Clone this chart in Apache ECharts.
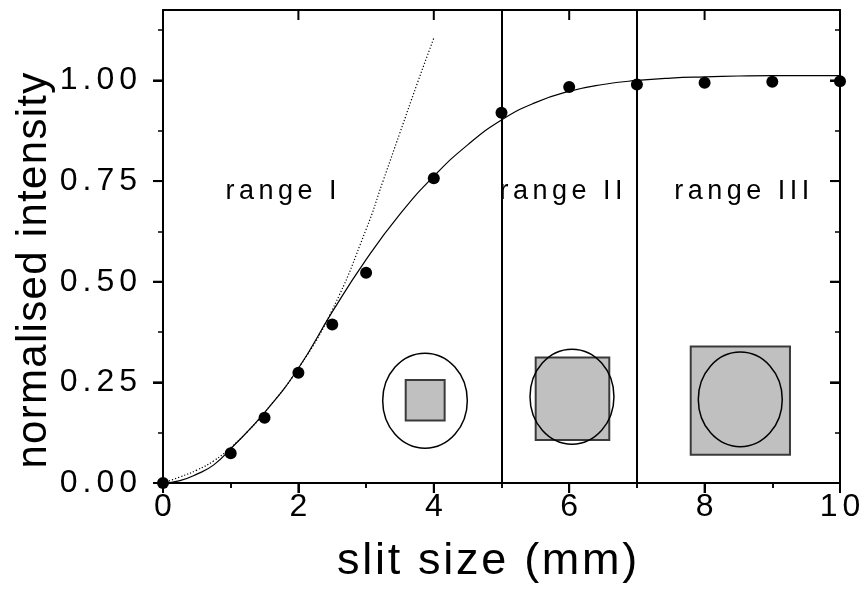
<!DOCTYPE html>
<html>
<head>
<meta charset="utf-8">
<script src="https://cdn.jsdelivr.net/npm/echarts@6/dist/echarts.min.js"></script>
<style>
html,body{margin:0;padding:0;background:#fff;}
#main{width:864px;height:593px;}
</style>
</head>
<body>
<div id="main"></div>
<script>
// ---- data ----
var ptX = [0, 1, 1.5, 2, 2.5, 3, 4, 5, 6, 7, 8, 9, 10];
var ptY = [0, 0.074, 0.162, 0.274, 0.394, 0.522, 0.757, 0.92, 0.984, 0.99, 0.994, 0.997, 0.998];

var fitX = [0, 0.25, 0.5, 0.75, 1, 1.5, 2, 2.5, 3, 3.5, 4, 4.5, 5, 5.5, 6, 6.5, 7, 7.5, 8, 8.5, 9, 10];
var fitY = [0, 0.006, 0.022, 0.045, 0.085, 0.175, 0.285, 0.425, 0.555, 0.668, 0.762, 0.84, 0.902, 0.945, 0.973, 0.99, 1.0, 1.006, 1.009, 1.011, 1.012, 1.012];

var dotX = [0, 0.25, 0.5, 0.75, 1, 1.25, 1.5, 2, 2.5, 3, 3.25, 3.5, 3.75, 4];
var dotY = [0, 0.015, 0.032, 0.055, 0.088, 0.128, 0.175, 0.285, 0.43, 0.63, 0.75, 0.87, 0.99, 1.105];

var rangeBounds = [5, 7];
var rangeLabels = ['range I', 'range II', 'range III'];
var rangeLabelX = [1.743, 5.88, 8.55];
var rangeLabelY = [0.724, 0.724, 0.724];

// inset schematics (data units): squares [x0, y0, x1, y1], ellipses [cx, cy, rx, ry]
var insetSquares = [[3.585, 0.155, 4.16, 0.256], [5.505, 0.107, 6.592, 0.312], [7.795, 0.07, 9.261, 0.339]];
var insetEllipses = [[3.87, 0.2045, 0.625, 0.118], [6.041, 0.2144, 0.62, 0.118], [8.527, 0.2077, 0.62, 0.1175]];

// axes
var xMin = 0, xMax = 10, xStep = 2;
var yMin = 0, yMax = 1.175, yStep = 0.25, yTickMax = 1.25;
var xMajorTicks = [0, 2, 4, 6, 8, 10];
var yMajorTicks = [0, 0.25, 0.5, 0.75, 1.0];

var FONT = "'Liberation Sans', Arial, sans-serif";
// letter spacing (px) of the reference typesetting, keyed by font size
var SPACING = { '32': 5, '45': 2.7, '42': 1.3, '27': 4.5 };

// canvas text with letter spacing (the reference uses widely spaced letters)
(function () {
  var proto = CanvasRenderingContext2D.prototype;
  var orig = proto.fillText;
  proto.fillText = function (t, x, y, mw) {
    var m = /(\d+(?:\.\d+)?)px/.exec(this.font || '');
    var sp = m && SPACING[m[1]] ? SPACING[m[1]] : 0;
    if ('letterSpacing' in this) { this.letterSpacing = sp + 'px'; }
    var r = mw === undefined ? orig.call(this, t, x, y) : orig.call(this, t, x, y, mw);
    if ('letterSpacing' in this) { this.letterSpacing = '0px'; }
    return r;
  };
})();

function zip(a, b) { return a.map(function (v, i) { return [v, b[i]]; }); }

var W = 864, H = 593, G_LEFT = 163, G_RIGHT = 24, G_TOP = 10, G_BOTTOM = 110;
var plotH = H - G_TOP - G_BOTTOM;
// tall grid only carries y labels / minor ticks, extended so that its last tick falls outside the view
var tickGridTop = G_TOP + plotH - plotH / yMax * yTickMax;
var MAJOR_LEN = 10;

var chart = echarts.init(document.getElementById('main'), null, { renderer: 'canvas' });

var black = '#000';
var minorTickStyle = { color: black, width: 1.5 };
function frameAxis(extra) {
  return Object.assign({
    type: 'value', axisTick: { show: false }, axisLabel: { show: false },
    splitLine: { show: false }, minorSplitLine: { show: false },
    axisLine: { show: true, onZero: false, lineStyle: { color: black, width: 2 } }
  }, extra);
}
function tickAxis(extra) {
  return Object.assign({
    type: 'value', axisLine: { show: false },
    splitLine: { show: false }, minorSplitLine: { show: false },
    axisTick: { show: true, length: MAJOR_LEN, lineStyle: { color: black, width: 2 } },
    minorTick: { show: true, splitNumber: 2, length: 5, lineStyle: minorTickStyle }
  }, extra);
}

var option = {
  animation: false,
  backgroundColor: '#fff',
  grid: [
    { left: G_LEFT, right: G_RIGHT, top: G_TOP, bottom: G_BOTTOM, containLabel: false, outerBoundsMode: 'none' },
    { left: G_LEFT, right: G_RIGHT, top: tickGridTop, bottom: G_BOTTOM, containLabel: false, outerBoundsMode: 'none' },
    { left: G_LEFT, right: G_RIGHT, top: G_TOP, bottom: G_BOTTOM, containLabel: false, outerBoundsMode: 'none' }
  ],
  xAxis: [
    frameAxis({ gridIndex: 0, min: xMin, max: xMax, interval: xStep, position: 'bottom' }),
    frameAxis({ gridIndex: 0, min: xMin, max: xMax, interval: xStep, position: 'top' }),
    tickAxis({
      gridIndex: 1, min: xMin, max: xMax, interval: xStep, position: 'bottom',
      axisLabel: { color: black, fontSize: 32, fontFamily: FONT, margin: 8, padding: [0, 0, 0, 5] },
      name: 'slit size (mm)', nameLocation: 'middle', nameGap: 56,
      nameTextStyle: { color: black, fontSize: 45, fontFamily: FONT, padding: [0, 26, 0, 0] }
    }),
    tickAxis({
      gridIndex: 2, min: xMin, max: xMax, interval: xStep, position: 'top',
      axisTick: { show: true, inside: true, length: MAJOR_LEN, lineStyle: { color: black, width: 2 } },
      axisLabel: { show: false }
    })
  ],
  yAxis: [
    frameAxis({
      gridIndex: 0, min: yMin, max: yMax, position: 'left',
      name: 'normalised intensity', nameLocation: 'middle', nameGap: 108,
      nameTextStyle: { color: black, fontSize: 42, fontFamily: FONT, padding: [0, 47, 0, 0] }
    }),
    frameAxis({ gridIndex: 0, min: yMin, max: yMax, position: 'right' }),
    tickAxis({
      gridIndex: 1, min: yMin, max: yTickMax, interval: yStep, position: 'left',
      axisLabel: { color: black, fontSize: 32, fontFamily: FONT, margin: 21, showMaxLabel: false,
        formatter: function (v) { return v.toFixed(2); } }
    }),
    tickAxis({
      gridIndex: 1, min: yMin, max: yTickMax, interval: yStep, position: 'right',
      axisTick: { show: true, inside: true, length: MAJOR_LEN, lineStyle: { color: black, width: 2 } },
      axisLabel: { show: false }
    }),
    { gridIndex: 2, type: 'value', min: yMin, max: yMax, show: false }
  ],
  series: [
    {
      // major tick marks on all four sides, placed through the data scales
      type: 'custom', name: 'major ticks', xAxisIndex: 0, yAxisIndex: 0, silent: true, clip: false, z: 5,
      data: xMajorTicks.map(function (v) { return [v, 0]; }).concat(yMajorTicks.map(function (v) { return [v, 1]; })),
      renderItem: function (params, api) {
        var v = api.value(0), isY = api.value(1) === 1;
        var st = { stroke: black, lineWidth: 2 };
        var a, b;
        if (!isY) {
          a = api.coord([v, yMin]); b = api.coord([v, yMax]);
          return { type: 'group', children: [
            { type: 'line', shape: { x1: a[0], y1: a[1], x2: a[0], y2: a[1] + MAJOR_LEN }, style: st },
            { type: 'line', shape: { x1: b[0], y1: b[1], x2: b[0], y2: b[1] + MAJOR_LEN }, style: st }
          ] };
        }
        a = api.coord([xMin, v]); b = api.coord([xMax, v]);
        return { type: 'group', children: [
          { type: 'line', shape: { x1: a[0] - MAJOR_LEN, y1: a[1], x2: a[0], y2: a[1] }, style: st },
          { type: 'line', shape: { x1: b[0] - MAJOR_LEN, y1: b[1], x2: b[0], y2: b[1] }, style: st }
        ] };
      }
    },
    {
      type: 'custom', name: 'insets', xAxisIndex: 0, yAxisIndex: 0, silent: true, clip: false,
      data: insetSquares.map(function (s, i) { return s.concat(insetEllipses[i]); }),
      encode: { x: [0, 2], y: [1, 3] },
      renderItem: function (params, api) {
        var x0 = api.value(0), y0 = api.value(1), x1 = api.value(2), y1 = api.value(3);
        var cx = api.value(4), cy = api.value(5), rxv = api.value(6), ryv = api.value(7);
        var pTL = api.coord([x0, y1]), pBR = api.coord([x1, y0]);
        var c = api.coord([cx, cy]);
        var rx = api.size([rxv, 0])[0], ry = api.size([0, ryv])[1];
        return {
          type: 'group',
          children: [{
            type: 'rect',
            shape: { x: pTL[0], y: pTL[1], width: pBR[0] - pTL[0], height: pBR[1] - pTL[1] },
            style: { fill: '#c0c0c0', stroke: '#3a3a3a', lineWidth: 2 }
          }, {
            type: 'ellipse',
            shape: { cx: c[0], cy: c[1], rx: rx, ry: ry },
            style: { fill: 'none', stroke: black, lineWidth: 1.5 }
          }]
        };
      }
    },
    {
      type: 'line', name: 'dotted', xAxisIndex: 0, yAxisIndex: 0, data: zip(dotX, dotY), smooth: true,
      showSymbol: false, symbol: 'none', silent: true,
      lineStyle: { color: black, width: 1.2, type: [1.2, 2] }
    },
    {
      type: 'line', name: 'fit', xAxisIndex: 0, yAxisIndex: 0, data: zip(fitX, fitY), smooth: true,
      showSymbol: false, symbol: 'none', silent: true,
      lineStyle: { color: black, width: 1.2 }
    },
    {
      type: 'scatter', name: 'measured', xAxisIndex: 0, yAxisIndex: 0, data: zip(ptX, ptY),
      symbol: 'circle', symbolSize: 12, clip: false, silent: true, z: 6,
      itemStyle: { color: black, opacity: 1 },
      markLine: {
        silent: true, symbol: ['none', 'none'], label: { show: false },
        lineStyle: { color: black, width: 2, type: 'solid', opacity: 1 },
        data: rangeBounds.map(function (v) { return { xAxis: v }; })
      }
    },
    {
      type: 'custom', name: 'range labels', xAxisIndex: 0, yAxisIndex: 0, silent: true, clip: false,
      data: rangeLabels.map(function (t, i) { return [rangeLabelX[i], rangeLabelY[i]]; }),
      renderItem: function (params, api) {
        var p = api.coord([api.value(0), api.value(1)]);
        return {
          type: 'text', x: p[0] + SPACING['27'] / 2, y: p[1],
          style: { text: rangeLabels[params.dataIndex], fill: black, font: '27px ' + FONT,
            align: 'center', verticalAlign: 'middle' }
        };
      }
    }
  ]
};

chart.setOption(option);
</script>
</body>
</html>
